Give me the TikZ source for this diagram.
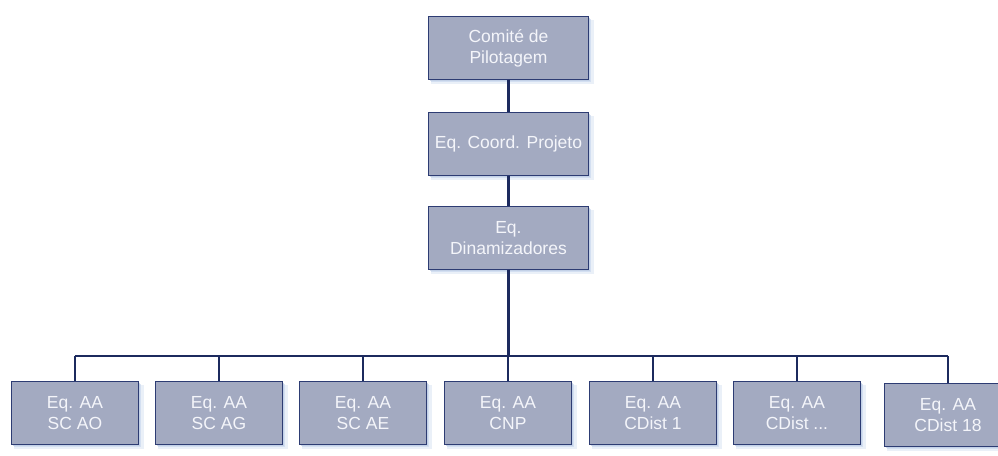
\documentclass[tikz,border=0pt]{standalone}
\usepackage{fontspec}
\setmainfont{Liberation Sans}
\usetikzlibrary{shadows}
\definecolor{boxfill}{RGB}{163,170,193}
\definecolor{boxline}{RGB}{45,60,115}
\definecolor{linkcol}{RGB}{28,42,94}
\definecolor{glow}{RGB}{196,212,236}
\definecolor{boxtext}{RGB}{244,245,250}
\tikzset{
  orgbox/.style={draw=boxline, line width=0.9pt, fill=boxfill, text=boxtext,
    inner sep=0pt, align=center, anchor=north west,
    font=\fontsize{17.5}{21}\selectfont,
    general shadow={shadow xshift=4pt, shadow yshift=-4pt, fill=glow, opacity=0.35, shadow scale=1.02},
    general shadow={shadow xshift=2.5pt, shadow yshift=-2.5pt, fill=glow, opacity=0.6},
    general shadow={shadow xshift=1.2pt, shadow yshift=-1.2pt, fill=glow!80!boxfill, opacity=0.7}},
  topbox/.style={orgbox, minimum width=160pt, minimum height=63pt},
  unitbox/.style={orgbox, minimum width=127pt, minimum height=63pt},
  trunk/.style={draw=linkcol, line width=2.4pt},
  branch/.style={draw=linkcol, line width=1.7pt}
}
\begin{document}
\begin{tikzpicture}[x=1pt,y=-1pt]
\useasboundingbox (0,0) rectangle (998,455);
\clip (0,0) rectangle (998,455);

% steering levels
\node[topbox] (pilot) at (428,16)  {Comité de\\Pilotagem};
\node[topbox] (coord) at (428,112) {Eq. Coord. Projeto};
\node[topbox] (dinam) at (428,206) {Eq.\\Dinamizadores};

% local teams
\node[unitbox] (ao)   at (11,381)  {Eq. AA\\SC AO};
\node[unitbox] (ag)   at (155,381) {Eq. AA\\SC AG};
\node[unitbox] (ae)   at (299,381) {Eq. AA\\SC AE};
\node[unitbox] (cnp)  at (444,381) {Eq. AA\\CNP};
\node[unitbox] (cd1)  at (589,381) {Eq. AA\\CDist 1};
\node[unitbox] (cdx)  at (733,381) {Eq. AA\\CDist ...};
\node[unitbox] (cd18) at (884,383) {Eq. AA\\CDist 18};

% bus line
\coordinate (busL) at (ao.north |- 0,356);
\coordinate (busR) at (cd18.north |- 0,356);
\coordinate (busM) at (dinam.south |- 0,356);

% connectors
\draw[trunk] (pilot.south) -- (coord.north);
\draw[trunk] (coord.south) -- (dinam.north);
\draw[trunk] (dinam.south) -- (busM);
\draw[branch] (busL) -- (busR);
\foreach \n in {ao,ag,ae,cnp,cd1,cdx,cd18}
  \draw[branch] (\n.north |- busM) -- (\n.north);
\end{tikzpicture}
\end{document}
